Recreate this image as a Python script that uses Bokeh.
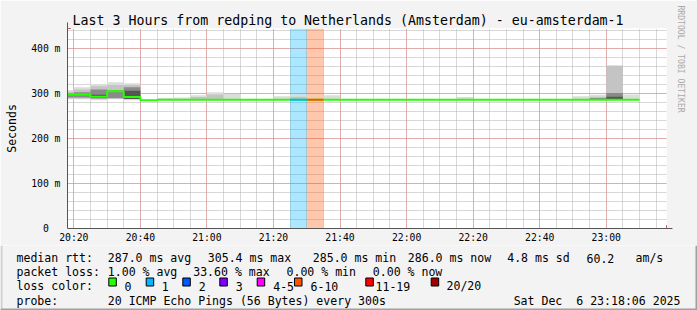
import math
import pandas as pd
from bokeh.plotting import figure
from bokeh.layouts import column
from bokeh.models import (FixedTicker, Title, Arrow, NormalHead,
                          Range1d, DatetimeTickFormatter)
from bokeh.core.properties import value
from bokeh.embed import file_html
from bokeh.resources import INLINE

# ---------------- data ----------------
title = "Last 3 Hours from redping to Netherlands (Amsterdam) - eu-amsterdam-1"
day = "2025-12-06"
view_start = "20:18:06"
view_end = "23:18:06"
first_bin = "20:15"
step_min = 5

# median rtt per 5-minute bin (ms), 20:15 ... 23:05
median_ms = [298, 298, 293, 305, 292, 285, 286, 286, 286, 286,
             286, 286, 286, 286, 286, 286, 286, 286, 286, 286,
             286, 286, 286, 286, 286, 286, 286, 286, 286, 286,
             286, 286, 286, 286, 286]
# lost pings (of 20) per bin
loss_pings = [0, 0, 0, 0, 0, 0, 0, 0, 0, 0,
              0, 0, 0, 0, 1, 7, 0, 0, 0, 0,
              0, 0, 0, 0, 0, 0, 0, 0, 0, 0,
              0, 0, 0, 0, 0]
N = None
# smoke bands (ms)
smoke_light_lo = [287, 287, 285, 287, 285, N, 285, 285, 285, 285, 285, N, N, 285, 285, N, 285, N, N, N,
                  N, N, N, N, 285, N, N, N, N, N, N, 285, 285, N, 285]
smoke_light_hi = [308, 314, 321, 325, 323, N, 290, 291, 296, 303, 299, N, N, 294, 298, N, 296, N, N, N,
                  N, N, N, N, 292, N, N, N, N, N, N, 294, 297, N, 298]
smoke_mid_lo = [289, 289, 288, 288, 287, N, N, N, 286, 286, N, N, N, N, 286, N, N, N, N, N,
                N, N, N, N, N, N, N, N, N, N, N, N, 286, 286, N]
smoke_mid_hi = [304, 309, 316, 319, 319, N, N, N, 292, 298, N, N, N, N, 293, N, N, N, N, N,
                N, N, N, N, N, N, N, N, N, N, N, N, 293, 362, N]
smoke_core_lo = [291, 291, 289, 290, 288, N, N, N, N, N, N, N, N, N, N, N, N, N, N, N,
                 N, N, N, N, N, N, N, N, N, N, N, N, 286, 286, N]
smoke_core_hi = [300, 303, 309, 307, 314, N, N, N, N, N, N, N, N, N, N, N, N, N, N, N,
                 N, N, N, N, N, N, N, N, N, N, N, N, 290, 301, N]
smoke_dark_lo = [N, N, 290, N, 288, N, N, N, N, N, N, N, N, N, N, N, N, N, N, N,
                 N, N, N, N, N, N, N, N, N, N, N, N, N, 286, N]
smoke_dark_hi = [N, N, 297, N, 306, N, N, N, N, N, N, N, N, N, N, N, N, N, N, N,
                 N, N, N, N, N, N, N, N, N, N, N, N, N, 293, N]

y_max = 444.44
y_major = [0, 100, 200, 300, 400]
y_labels = ["0\u00a0\u00a0", "100 m", "200 m", "300 m", "400 m"]

loss_legend = [("0", "#26ff00"), ("1", "#00b8ff"), ("2", "#0059ff"), ("3", "#7e00ff"),
               ("4-5", "#ff00ff"), ("6-10", "#ff5500"), ("11-19", "#ff0000"), ("20/20", "#a10000")]

def loss_color(n):
    if n == 0: return "#26ff00"
    if n == 1: return "#00b8ff"
    if n == 2: return "#0059ff"
    if n == 3: return "#7e00ff"
    if n <= 5: return "#ff00ff"
    if n <= 10: return "#ff5500"
    if n <= 19: return "#ff0000"
    return "#a10000"

rtt_stats = ["287.0 ms avg", "305.4 ms max", "285.0 ms min", "286.0 ms now", "4.8 ms sd", "60.2", "am/s"]
loss_stats = ["1.00 % avg", "33.60 % max", "0.00 % min", "0.00 % now"]
probe_text = "20 ICMP Echo Pings (56 Bytes) every 300s"
stamp_text = "Sat Dec\u00a0\u00a06 23:18:06 2025"

# ---------------- derived ----------------
t0 = pd.Timestamp(f"{day} {first_bin}")
dt = pd.Timedelta(minutes=step_min)
starts = [t0 + dt * i for i in range(len(median_ms))]
ends = [s + dt for s in starts]
xs = pd.Timestamp(f"{day} {view_start}")
xe = pd.Timestamp(f"{day} {view_end}")

W, H = 697, 310
FL, FT, FW, FH = 67, 28, 600, 200
FB = FT + FH
HA = 245           # height of the chart part
BG = "#f3f3f3"
MONO = "DejaVu Sans Mono"

p = figure(width=W, height=HA, x_axis_type="datetime", output_backend="svg",
           toolbar_location=None, x_range=Range1d(xs, xe), y_range=Range1d(0, y_max),
           min_border_left=FL, min_border_right=W - FL - FW, min_border_top=FT,
           min_border_bottom=HA - FB, background_fill_color="white",
           border_fill_color=BG, outline_line_color=None, frame_align=False)

p.title.text = title
p.title.text_font = MONO
p.title.text_font_size = "13.27px"
p.title.text_font_style = "normal"
p.title.text_color = "#000000"
p.title.align = "left"
p.title.offset = 5
p.title.standoff = 2

p.add_layout(Title(text="RRDTOOL / TOBI OETIKER", text_font=MONO, text_font_size="8.1px",
                   text_font_style="normal", text_color="#aaaaaa", align="left",
                   offset=-23, standoff=19), "right")

def ms(t):
    return t.value / 1e6

x_major = [ms(pd.Timestamp(f"{day} 20:20") + pd.Timedelta(minutes=20 * i)) for i in range(9)]
x_minor = [ms(pd.Timestamp(f"{day} 20:20") + pd.Timedelta(minutes=5 * i)) for i in range(36)]
p.xaxis.ticker = FixedTicker(ticks=x_major, minor_ticks=x_minor)
p.yaxis.ticker = FixedTicker(ticks=y_major, minor_ticks=list(range(0, 441, 20)))
p.xaxis.formatter = DatetimeTickFormatter(minutes="%H:%M", hourmin="%H:%M", hours="%H:%M",
                                          minsec="%H:%M", seconds="%H:%M")
p.yaxis.major_label_overrides = {v: l for v, l in zip(y_major, y_labels)}

for g in (p.xgrid, p.ygrid):
    g.grid_line_color = "#e88080"
    g.grid_line_dash = "1 1"
    g.grid_line_width = 1
    g.minor_grid_line_color = "#b0b0b0"
    g.minor_grid_line_dash = "1 1"
    g.minor_grid_line_width = 1

for ax in (p.xaxis, p.yaxis):
    ax.axis_line_color = "#555555"
    ax.major_tick_in = 0
    ax.major_tick_out = 0
    ax.minor_tick_in = 0
    ax.minor_tick_out = 0
    ax.major_label_text_font = MONO
    ax.major_label_text_font_size = "9.75px"
    ax.major_label_text_color = "#000000"
p.xaxis.major_label_standoff = 3
p.yaxis.major_label_standoff = 7
p.yaxis.axis_label = "Seconds"
p.yaxis.axis_label_text_font = MONO
p.yaxis.axis_label_text_font_size = "11.55px"
p.yaxis.axis_label_text_font_style = "normal"
p.yaxis.axis_label_text_color = "#000000"
p.yaxis.axis_label_standoff = 9

# loss background bands
lb = [(s, e, loss_color(n)) for s, e, n in zip(starts, ends, loss_pings) if n > 0]
p.quad(left=[b[0] for b in lb], right=[b[1] for b in lb], bottom=0, top=y_max,
       fill_color=[b[2] for b in lb], fill_alpha=0.33, line_color=None)

def smoke(lo, hi, color):
    L, R, B, T = [], [], [], []
    for s, e, a, b in zip(starts, ends, lo, hi):
        if a is None:
            continue
        L.append(s); R.append(e); B.append(a); T.append(b)
    p.quad(left=L, right=R, bottom=B, top=T, fill_color=color, line_color=None)

smoke(smoke_light_lo, smoke_light_hi, "#dcdcdc")
smoke(smoke_mid_lo, smoke_mid_hi, "#c4c4c4")
smoke(smoke_core_lo, smoke_core_hi, "#8a8a8a")
smoke(smoke_dark_lo, smoke_dark_hi, "#555555")

p.step(x=starts + [ends[-1]], y=median_ms + [median_ms[-1]], mode="after",
       line_color="#26ff00", line_width=2)
ls = [(s, e, m, loss_color(n)) for s, e, m, n in zip(starts, ends, median_ms, loss_pings) if n > 0]
p.segment(x0=[a[0] for a in ls], x1=[a[1] for a in ls], y0=[a[2] for a in ls],
          y1=[a[2] for a in ls], line_color=[a[3] for a in ls], line_width=2)

# axis arrows (heads only; the axis lines come from the axes)
px_t = (xe - xs) / FW
p.add_layout(Arrow(end=NormalHead(size=6, fill_color="#a00000", line_color="#a00000"),
                   x_start=xe - px_t * 2, x_end=xe + px_t * 6, y_start=0, y_end=0,
                   line_color="#555555", line_width=1))
p.add_layout(Arrow(end=NormalHead(size=6, fill_color="#a00000", line_color="#a00000"),
                   x_start=xs, x_end=xs, y_start=y_max - 2, y_end=y_max + 6 * y_max / FH,
                   line_color="#555555", line_width=1))

# ---------------- legend part (pixel space) ----------------
q = figure(width=W, height=H - HA, output_backend="svg", toolbar_location=None,
           x_range=Range1d(0, W), y_range=Range1d(H, HA), min_border=0,
           x_axis_location=None, y_axis_location=None, frame_align=False,
           background_fill_color=BG, border_fill_color=BG, outline_line_color=None)
q.grid.visible = False

def txt(xv, yv, s, align="left"):
    q.text(x=xv, y=yv, text=s, text_font=value(MONO), text_font_size=value("11.55px"),
           text_align=align, text_baseline="alphabetic", text_color="#000000")

row = [257.7, 271.7, 285.7, 300.0]
txt([16], [row[0]], ["median rtt:"])
txt([107.3, 207.3, 312.3, 407.3, 506.7, 586, 635], [row[0]] * 7, rtt_stats)
txt([16], [row[1]], ["packet loss:"])
txt([107.3, 192.7, 286, 372.3], [row[1]] * 4, loss_stats)
txt([16], [row[2]], ["loss color:"])
box_x = [108.3, 145.7, 182.3, 219.3, 256.7, 294.0, 365.3, 430.7]
lab_x = [124, 161.3, 198.3, 235.3, 272.7, 310, 375, 446]
q.quad(left=box_x, right=[b + 7.5 for b in box_x], top=277.5, bottom=285.5,
       fill_color=[c for _, c in loss_legend], line_color="#000000", line_width=1)
txt(lab_x, [row[2]] * len(lab_x), [l for l, _ in loss_legend])
txt([16], [row[3]], ["probe:"])
txt([107.3], [row[3]], [probe_text])
txt([680], [row[3]], [stamp_text], align="right")

# image edges
q.quad(left=[0, W - 2, 0], right=[2, W, W], top=[HA, HA, H - 2], bottom=[H, H, H],
       fill_color=["#d0d0d0", "#a0a0a0", "#a0a0a0"], line_color=None)

layout = column(p, q, spacing=0)
open("out.html", "w").write(file_html(layout, INLINE))
